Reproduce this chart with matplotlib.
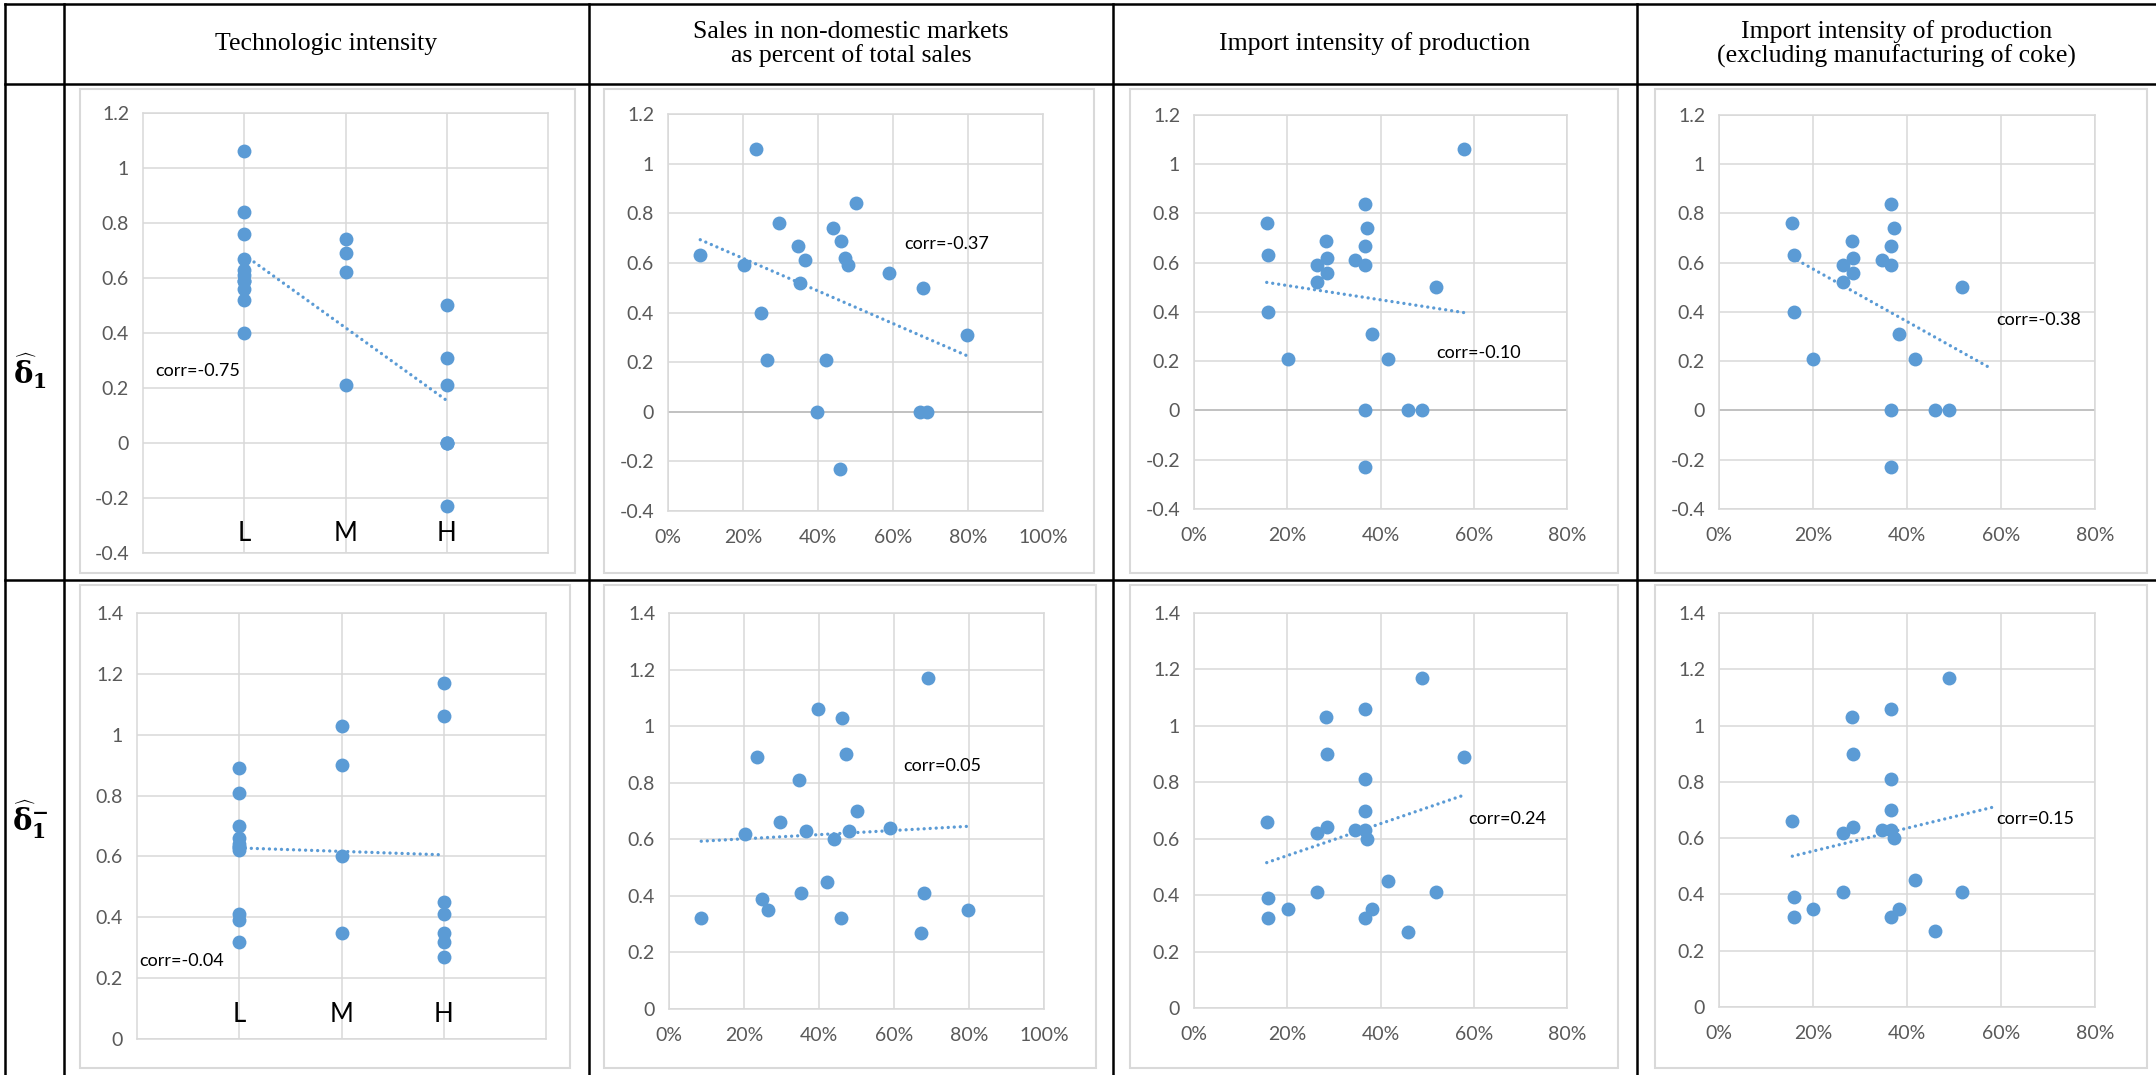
import matplotlib
matplotlib.use('Agg')
import matplotlib.pyplot as plt
import numpy as np
from matplotlib.lines import Line2D
from matplotlib.patches import Rectangle

plt.rcParams['axes.unicode_minus'] = False
plt.rcParams['mathtext.fontset'] = 'custom'
plt.rcParams['mathtext.rm'] = 'DejaVu Serif:bold'
plt.rcParams['mathtext.it'] = 'DejaVu Serif:bold'
plt.rcParams['mathtext.bf'] = 'DejaVu Serif:bold'

# one entry per industry (same order in every list)
tech = ['L', 'L', 'L', 'L', 'M', 'L', 'L', 'L', 'L', 'H', 'H',
        'M', 'M', 'H', 'M', 'L', 'L', 'L', 'H', 'H', 'H', 'H']
sales_abroad = [8.6, 20.3, 23.4, 24.7, 26.5, 29.7, 34.6, 35.2, 36.5, 39.7, 42.2,
                44.1, 46.1, 45.9, 47.2, 48.1, 50.0, 59.0, 68.1, 67.2, 69.0, 79.8]
import_int = [15.9, 26.4, 58.0, 15.9, 20.1, 15.6, 36.6, 26.4, 34.6, 36.6, 41.6,
              37.2, 28.4, 36.6, 28.6, 36.6, 36.6, 28.6, 51.8, 45.9, 48.9, 38.2]
delta1 = [0.63, 0.59, 1.06, 0.40, 0.21, 0.76, 0.67, 0.52, 0.61, 0.0, 0.21,
          0.74, 0.69, -0.23, 0.62, 0.59, 0.84, 0.56, 0.50, 0.0, 0.0, 0.31]
delta1_minus = [0.32, 0.62, 0.89, 0.39, 0.35, 0.66, 0.81, 0.41, 0.63, 1.06, 0.45,
                0.60, 1.03, 0.32, 0.90, 0.63, 0.70, 0.64, 0.41, 0.27, 1.17, 0.35]
is_coke = [False, False, True, False, False, False, False, False, False, False, False,
           False, False, False, False, False, False, False, False, False, False, False]

categories = ['L', 'M', 'H']
col_titles = ['Technologic intensity',
              'Sales in non-domestic markets\nas percent of total sales',
              'Import intensity of production',
              'Import intensity of production\n(excluding manufacturing of coke)']
row_titles = [r'$\widehat{\delta}_1$', r'$\widehat{\delta}_1^{-}$']
corr_labels = [['corr=-0.75', 'corr=-0.37', 'corr=-0.10', 'corr=-0.38'],
               ['corr=-0.04', 'corr=0.05', 'corr=0.24', 'corr=0.15']]

W, H = 2156, 1075
BLUE = '#5B9BD5'
GRID = '#D9D9D9'
TICK = '#595959'
SANS = 'Lato'
SERIF = 'Liberation Serif'

fig = plt.figure(figsize=(W / 100, H / 100), dpi=100)


def frect(x0, y0, x1, y1):
    return [x0 / W, 1 - y1 / H, (x1 - x0) / W, (y1 - y0) / H]


# table grid
def hline(y, x0=5, x1=W):
    fig.add_artist(Line2D([x0 / W, x1 / W], [1 - y / H] * 2, color='black', lw=1.8))


def vline(x, y0=4, y1=H):
    fig.add_artist(Line2D([x / W] * 2, [1 - y0 / H, 1 - y1 / H], color='black', lw=1.8))


for y in [4, 84, 580]:
    hline(y)
col_edges = [64, 589, 1113, 1637, W]
for x in [5] + col_edges[:-1]:
    vline(x)

for i, t in enumerate(col_titles):
    cx = (col_edges[i] + col_edges[i + 1]) / 2
    fig.text(cx / W, 1 - 44 / H, t, ha='center', va='center', fontsize=18.5,
             family=SERIF, linespacing=1.1)

fig.text(30 / W, 1 - 371 / H, row_titles[0], ha='center', va='center', fontsize=21)
fig.text(30 / W, 1 - 820 / H, row_titles[1], ha='center', va='center', fontsize=21)

plot_boxes = [[(143, 113, 548, 553), (668, 114, 1043, 511), (1194, 115, 1567, 509), (1719, 115, 2095, 509)],
              [(137, 613, 546, 1039), (669, 613, 1044, 1009), (1194, 613, 1567, 1008), (1719, 613, 2095, 1007)]]
chart_boxes = [[(80, 89, 575, 573), (604, 89, 1094, 573), (1130, 89, 1618, 573), (1655, 89, 2147, 573)],
               [(80, 585, 570, 1068), (604, 585, 1096, 1068), (1130, 585, 1618, 1068), (1655, 585, 2147, 1068)]]
# where the corr labels sit (data coords, left edge)
corr_pos = [[(0.12, 0.26), (63, 0.676), (52, 0.232), (59, 0.367)],
            [(0.02, 0.255), (62.4, 0.858), (58.8, 0.671), (58.9, 0.669)]]

tech_x = [categories.index(t) + 1 for t in tech]
keep = [not c for c in is_coke]

for r, yvals in enumerate([delta1, delta1_minus]):
    for c in range(4):
        x0, y0, x1, y1 = chart_boxes[r][c]
        fig.add_artist(Rectangle((x0 / W, 1 - y1 / H), (x1 - x0) / W, (y1 - y0) / H,
                                 transform=fig.transFigure, facecolor='white',
                                 edgecolor=GRID, lw=1.5, zorder=0))
        ax = fig.add_axes(frect(*plot_boxes[r][c]))
        ax.set_facecolor('none')

        if c == 0:
            xs = np.array(tech_x, float)
            ys = np.array(yvals)
        elif c == 1:
            xs = np.array(sales_abroad)
            ys = np.array(yvals)
        elif c == 2:
            xs = np.array(import_int)
            ys = np.array(yvals)
        else:
            xs = np.array(import_int)[keep]
            ys = np.array(yvals)[keep]

        if r == 0:
            yt = np.linspace(-0.4, 1.2, 9)
        else:
            yt = np.linspace(0, 1.4, 8)
        ax.set_ylim(yt[0], yt[-1])
        ax.set_yticks(yt)
        ax.set_yticklabels([f'{round(v, 1) + 0.0:g}' for v in yt])

        if c == 0:
            ax.set_xlim(0, 4)
            ax.set_xticks([1, 2, 3])
            ax.set_xticklabels([])
            lab_y = 0.015 if r == 0 else 0.028
            for k, cat in enumerate(categories):
                ax.text(k + 1, lab_y, cat, transform=ax.get_xaxis_transform(),
                        ha='center', va='bottom', fontsize=18.5, family=SANS)
        else:
            xmax = 100 if c == 1 else 80
            xt = np.arange(0, xmax + 1, 20)
            ax.set_xlim(0, xmax)
            ax.set_xticks(xt)
            ax.set_xticklabels([f'{v}%' for v in xt])

        ax.grid(True, color=GRID, lw=1.1, zorder=0)
        ax.set_axisbelow(True)
        for s in ax.spines.values():
            s.set_color(GRID)
            s.set_linewidth(1.1)
        if r == 0 and c > 0:
            ax.axhline(0, color='#BFBFBF', lw=1.3, zorder=1)
        ax.tick_params(length=0, labelsize=14, labelcolor=TICK)
        ax.tick_params(axis='y', pad=10)
        ax.tick_params(axis='x', pad=13)
        for lab in ax.get_xticklabels() + ax.get_yticklabels():
            lab.set_family(SANS)

        coef = np.polyfit(xs, ys, 1)
        # the excluded-coke panels keep the full import range for the trendline
        span = np.array(import_int) if c == 3 else xs
        tx = np.array([span.min(), span.max()])
        ax.plot(tx, np.polyval(coef, tx), color=BLUE, lw=2.4,
                ls=(0, (0.01, 1.8)), dash_capstyle='round', zorder=2)
        ax.scatter(xs, ys, s=100, color=BLUE, linewidths=0, zorder=3, clip_on=False)

        px, py = corr_pos[r][c]
        ax.text(px, py, corr_labels[r][c], ha='left', va='center', fontsize=13,
                family=SANS, color='black', zorder=4)

fig.savefig('out.png', dpi=100)
